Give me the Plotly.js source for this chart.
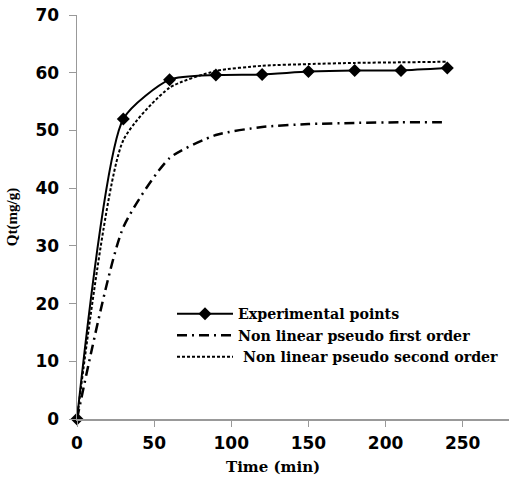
<!DOCTYPE html>
<html>
<head>
<meta charset="utf-8">
<script src="https://cdn.plot.ly/plotly-3.0.1.min.js"></script>
<style>html,body{margin:0;padding:0;background:#fff;}#chart{width:509px;height:479px;}</style>
</head>
<body>
<div id="chart"></div>
<script>
const time = [0, 30, 60, 90, 120, 150, 180, 210, 240];
const experimental = [0, 52.0, 58.8, 59.6, 59.7, 60.2, 60.4, 60.4, 60.8];
const pseudoFirst = [0, 33.2, 45.2, 49.2, 50.6, 51.1, 51.3, 51.4, 51.4];
const pseudoSecond = [0, 48.3, 57.4, 60.3, 61.2, 61.5, 61.7, 61.8, 61.9];
const seriesNames = ['Experimental points', 'Non linear pseudo first order', '\u00a0Non linear pseudo second order'];
const xTicks = [0, 50, 100, 150, 200, 250];
const yTicks = [0, 10, 20, 30, 40, 50, 60, 70];
const xTitle = 'Time (min)';
const yTitle = 'Qt(mg/g)';

const traces = [
  {x: time, y: experimental, name: seriesNames[0], mode: 'lines+markers', cliponaxis: false,
   line: {color: '#000', width: 2, shape: 'spline', smoothing: 0.6},
   marker: {symbol: 'diamond', size: 10, color: '#000'}},
  {x: time, y: pseudoFirst, name: seriesNames[1], mode: 'lines',
   line: {color: '#000', width: 2.5, dash: '10px,5px,2px,5px', shape: 'spline', smoothing: 0.6}},
  {x: time, y: pseudoSecond, name: seriesNames[2], mode: 'lines',
   line: {color: '#000', width: 2, dash: '3px,2px', shape: 'spline', smoothing: 0.6}}
];

const tickFont = {family: 'DejaVu Sans', size: 17, color: '#000', weight: 'bold'};
const layout = {
  width: 509, height: 479,
  margin: {l: 77, r: 0, t: 15, b: 60, autoexpand: false},
  paper_bgcolor: '#fff', plot_bgcolor: '#fff',
  showlegend: true,
  legend: {x: (172 - 77) / 432, y: (419 - 298) / 404, xanchor: 'left', yanchor: 'top',
    bgcolor: 'rgba(0,0,0,0)', borderwidth: 0, tracegroupgap: 0, itemwidth: 56,
    font: {family: 'DejaVu Serif', size: 14.2, color: '#000', weight: 'bold'}},
  xaxis: {range: [0, 280], tickvals: xTicks, ticktext: xTicks.map(String), showgrid: false, zeroline: false,
    showline: true, linecolor: '#999', linewidth: 1.5, ticks: 'outside', ticklen: 6, tickcolor: '#999', tickwidth: 1,
    tickfont: tickFont, ticklabelstandoff: 2},
  yaxis: {range: [0, 70], tickvals: yTicks, ticktext: yTicks.map(String), showgrid: false, zeroline: false,
    showline: true, linecolor: '#999', linewidth: 1.5, ticks: 'outside', ticklen: 7, tickcolor: '#999', tickwidth: 1,
    tickfont: tickFont, ticklabelstandoff: 6,
    title: {text: yTitle, font: {family: 'Liberation Serif', size: 15, color: '#000', weight: 'bold'}, standoff: 14}},
  annotations: [
    {text: xTitle, xref: 'paper', yref: 'paper', x: (273 - 77) / 432, y: (419 - 467) / 404,
     xanchor: 'center', yanchor: 'middle', showarrow: false,
     font: {family: 'DejaVu Serif', size: 15, color: '#000', weight: 'bold'}}
  ]
};

Plotly.newPlot('chart', traces, layout, {displayModeBar: false, staticPlot: true});
</script>
</body>
</html>
